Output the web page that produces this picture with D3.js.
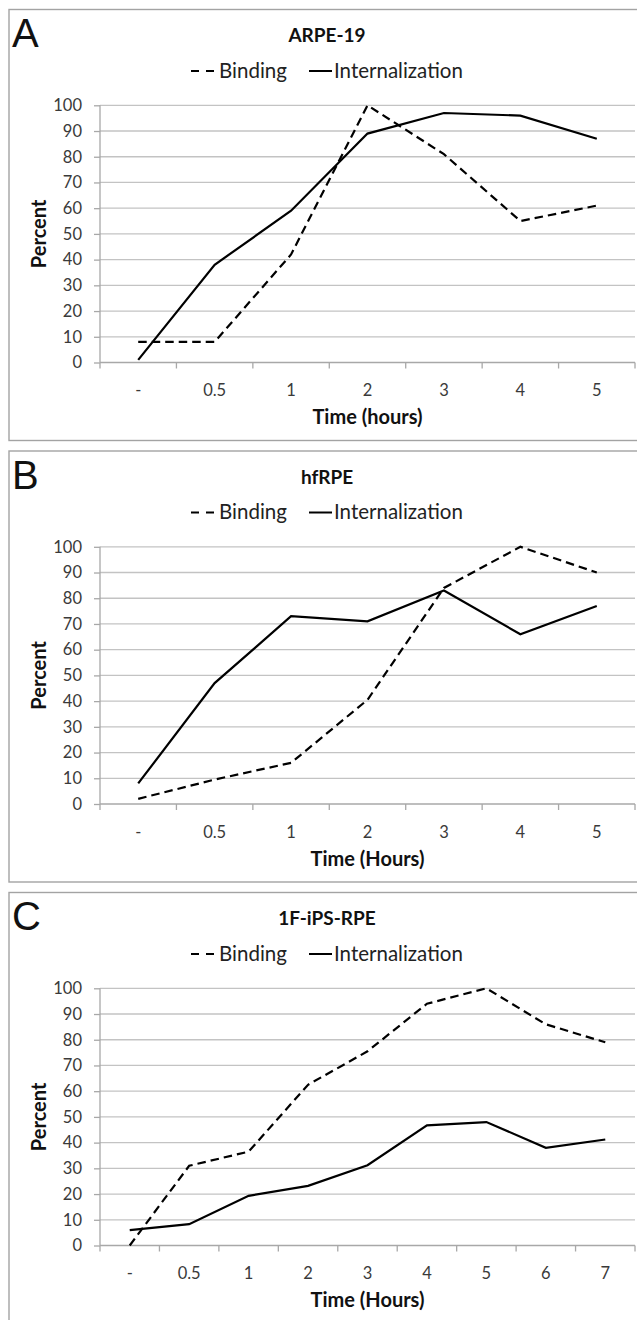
<!DOCTYPE html>
<html><head><meta charset="utf-8">
<script src="https://cdn.jsdelivr.net/npm/d3@7"></script>
<style>
body{margin:0;background:#fff;}
svg{display:block;font-family:Lato,"Open Sans",sans-serif;}
</style>
</head><body>
<svg id="chart" width="637" height="1320"></svg>
<script>
// ---- data ----
const categoriesAB = ["-", "0.5", "1", "2", "3", "4", "5"];
const categoriesC = ["-", "0.5", "1", "2", "3", "4", "5", "6", "7"];
const bindingA = [8, 8, 42, 100, 81, 55, 61];
const internalizationA = [1, 38, 59, 89, 97, 96, 87];
const bindingB = [2, 9.5, 16, 40.5, 84, 100, 90];
const internalizationB = [8, 47, 73, 71, 83, 66, 77];
const bindingC = [0, 31, 36.5, 62.5, 75.5, 94, 100, 86, 79];
const internalizationC = [6, 8.3, 19.3, 23.2, 31.2, 46.7, 48, 38, 41.2];
const yTicks = [0, 10, 20, 30, 40, 50, 60, 70, 80, 90, 100];
const panelLetters = ["A", "B", "C"];
const panelTitles = ["ARPE-19", "hfRPE", "1F-iPS-RPE"];
const xTitles = ["Time (hours)", "Time (Hours)", "Time (Hours)"];
const legendLabels = ["Binding", "Internalization"];

const panels = [
  {cats: categoriesAB, binding: bindingA, intern: internalizationA},
  {cats: categoriesAB, binding: bindingB, intern: internalizationB},
  {cats: categoriesC, binding: bindingC, intern: internalizationC}
];
const panelTops = [9.5, 451, 892.5];

const svg = d3.select("#chart");
const gridColor = "#c3c3c3";
const axisColor = "#a8a8a8";
const dash = "8.5,5";

panels.forEach((p, i) => {
  const T = panelTops[i];
  const g = svg.append("g");
  // panel box
  g.append("rect").attr("x", 9).attr("y", T).attr("width", 700)
    .attr("height", i === 2 ? 600 : 431)
    .attr("fill", "#fff").attr("stroke", "#a3a3a3").attr("stroke-width", 1.4);

  const x = d3.scaleBand().domain(p.cats).range([100, 635]).padding(0);
  const y = d3.scaleLinear().domain([0, 100]).range([T + 353, T + 95.8]);
  const cx = c => x(c) + x.bandwidth() / 2;

  // gridlines
  g.append("g").selectAll("line").data(yTicks.filter(v => v > 0)).join("line")
    .attr("x1", 100).attr("x2", 635)
    .attr("y1", d => y(d)).attr("y2", d => y(d))
    .attr("stroke", gridColor).attr("stroke-width", 1.3);

  // y axis
  const yAxis = d3.axisLeft(y).tickValues(yTicks).tickSize(6).tickPadding(12);
  const ya = g.append("g").attr("transform", "translate(100,0)").call(yAxis);
  ya.select(".domain").attr("stroke", axisColor).attr("stroke-width", 1.3)
    .attr("d", `M0,${y(0)}V${y(100)}`);
  ya.selectAll(".tick line").attr("stroke", axisColor).attr("stroke-width", 1.3);
  ya.selectAll(".tick text").attr("font-size", 16.5).attr("fill", "#3a3a3a")
    .attr("font-family", "Lato");

  // x axis labels
  const xAxis = d3.axisBottom(x).tickSize(0).tickPadding(22);
  const xa = g.append("g").attr("transform", `translate(0,${y(0)})`).call(xAxis);
  xa.select(".domain").attr("stroke", axisColor).attr("stroke-width", 1.3)
    .attr("d", "M100,0H635");
  xa.selectAll(".tick text").attr("font-size", 16.5).attr("fill", "#3a3a3a")
    .attr("font-family", "Lato");
  // boundary ticks
  const bounds = p.cats.map(c => x(c)).concat([x.range()[1]]);
  g.append("g").selectAll("line").data(bounds).join("line")
    .attr("x1", d => d).attr("x2", d => d)
    .attr("y1", y(0)).attr("y2", y(0) + 6)
    .attr("stroke", axisColor).attr("stroke-width", 1.3);

  // lines
  const line = d3.line().x((d, j) => cx(p.cats[j])).y(d => y(d));
  g.append("path").datum(p.binding).attr("d", line)
    .attr("fill", "none").attr("stroke", "#000").attr("stroke-width", 2.2)
    .attr("stroke-dasharray", dash);
  g.append("path").datum(p.intern).attr("d", line)
    .attr("fill", "none").attr("stroke", "#000").attr("stroke-width", 2.2);

  // panel letter
  g.append("text").attr("x", 12).attr("y", T + 37.5)
    .attr("font-family", "Liberation Sans, Arial, sans-serif")
    .attr("font-size", 40).attr("fill", "#111").text(panelLetters[i]);

  // title
  g.append("text").attr("x", 327).attr("y", T + 32.5).attr("text-anchor", "middle")
    .attr("font-size", 19).attr("font-weight", "bold").attr("fill", "#111")
    .text(panelTitles[i]);

  // legend
  const ly = T + 68;
  const lg = g.append("g");
  lg.append("line").attr("x1", 191).attr("x2", 214).attr("y1", ly - 6.5).attr("y2", ly - 6.5)
    .attr("stroke", "#000").attr("stroke-width", 2).attr("stroke-dasharray", "8,7");
  lg.append("text").attr("x", 219).attr("y", ly).attr("font-size", 20.5).attr("fill", "#222")
    .text(legendLabels[0]);
  lg.append("line").attr("x1", 309).attr("x2", 332).attr("y1", ly - 6.5).attr("y2", ly - 6.5)
    .attr("stroke", "#000").attr("stroke-width", 2);
  lg.append("text").attr("x", 334).attr("y", ly).attr("font-size", 20.5).attr("fill", "#222")
    .text(legendLabels[1]);

  // axis titles
  g.append("text").attr("x", 367.5).attr("y", T + 414.5).attr("text-anchor", "middle")
    .attr("font-size", 20).attr("font-weight", "bold").attr("fill", "#111")
    .text(xTitles[i]);
  g.append("text").attr("transform", `translate(46,${T + 224.4}) rotate(-90)`)
    .attr("text-anchor", "middle")
    .attr("font-size", 20).attr("font-weight", "bold").attr("fill", "#111")
    .text("Percent");
});
</script>
</body></html>
